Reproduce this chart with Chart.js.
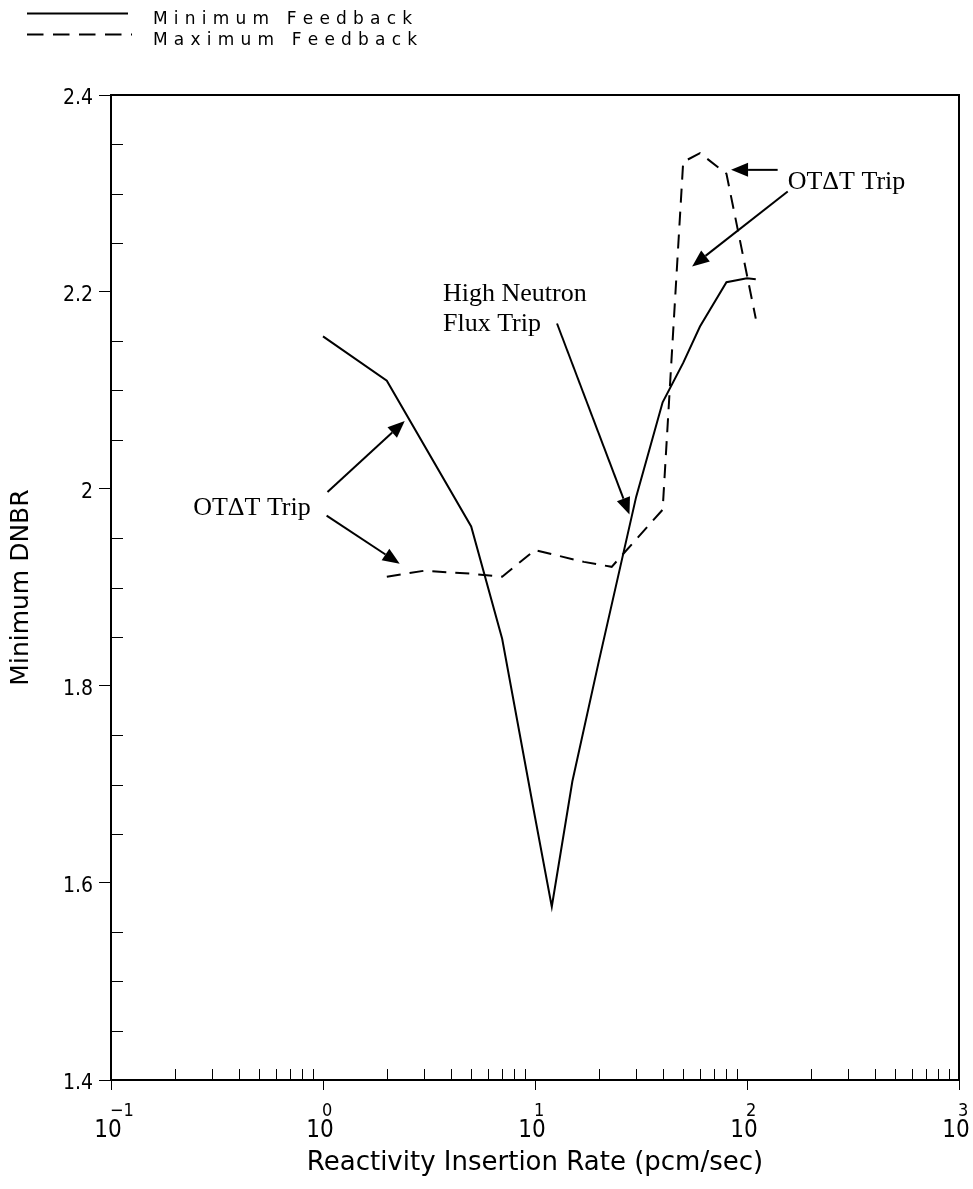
<!DOCTYPE html>
<html lang="en">
<head>
	<meta charset="UTF-8">
	<title>Minimum DNBR vs Reactivity Insertion Rate</title>
	<script src="https://cdn.jsdelivr.net/npm/chart.js@4.4.0/dist/chart.umd.min.js"></script>
	<style>
		html, body { margin: 0; padding: 0; background: #fff; }
		#wrap { width: 973px; height: 1189px; }
	</style>
</head>
<body>
	<div id="wrap"><canvas id="chart" width="973" height="1189"></canvas></div>

	<script>
		// data (x in pcm/sec, y = minimum DNBR)
		const minFeedbackRate = [1, 2, 5, 7, 10, 12, 15, 20, 30, 40, 50, 60, 80, 100, 110];
		const minFeedbackDnbr = [2.155, 2.110, 1.962, 1.848, 1.667, 1.576, 1.703, 1.825, 1.992, 2.088, 2.128, 2.165, 2.210, 2.214, 2.213];

		const maxFeedbackRate = [2, 3, 5, 7, 10, 17, 23, 40, 50, 60, 80, 110];
		const maxFeedbackDnbr = [1.911, 1.917, 1.914, 1.911, 1.938, 1.926, 1.921, 1.979, 2.332, 2.341, 2.320, 2.173];

		const seriesNames = ["Minimum Feedback", "Maximum Feedback"];

		const xMajorTicks = [0.1, 1, 10, 100, 1000];
		const xExponents = ["\u22121", "0", "1", "2", "3"];

		// callouts, in data coordinates
		const noteTexts = [["OT\u0394T Trip"], ["High Neutron", "Flux Trip"], ["OT\u0394T Trip"]];
		const noteAt = [[0.244, 1.974], [3.68, 2.191], [155.6, 2.305]];
		const arrowFrom = [[1.05, 1.997], [1.04, 1.973], [12.7, 2.168], [139.5, 2.324], [155.6, 2.302]];
		const arrowTo = [[2.43, 2.069], [2.30, 1.924], [27.9, 1.974], [84.1, 2.324], [55.1, 2.226]];

		const narrow = "'Liberation Sans Narrow', 'DejaVu Sans Condensed', sans-serif";
		const dash = [14, 9];

		function toPoints(xs, ys) {
			return xs.map((x, i) => ({ x: x, y: ys[i] }));
		}

		function drawArrow(ctx, x1, y1, x2, y2) {
			const a = Math.atan2(y2 - y1, x2 - x1);
			const len = 17, half = 7;
			const bx = x2 - len * Math.cos(a), by = y2 - len * Math.sin(a);
			ctx.beginPath();
			ctx.moveTo(x1, y1);
			ctx.lineTo(bx, by);
			ctx.stroke();
			ctx.beginPath();
			ctx.moveTo(x2, y2);
			ctx.lineTo(bx + half * Math.sin(a), by - half * Math.cos(a));
			ctx.lineTo(bx - half * Math.sin(a), by + half * Math.cos(a));
			ctx.closePath();
			ctx.fill();
		}

		function spacedText(ctx, str, x, y, gap) {
			for (const ch of str) {
				ctx.fillText(ch, x, y);
				x += ctx.measureText(ch).width + gap;
			}
		}

		const decorations = {
			id: 'decorations',
			afterDraw(chart) {
				const ctx = chart.ctx;
				const area = chart.chartArea;
				const xs = chart.scales.x, ys = chart.scales.y;
				ctx.save();
				ctx.strokeStyle = '#000';
				ctx.fillStyle = '#000';

				// frame
				ctx.lineWidth = 2;
				ctx.strokeRect(area.left, area.top, area.right - area.left, area.bottom - area.top);

				// minor ticks, pointing inward
				ctx.lineWidth = 1;
				ctx.beginPath();
				for (let k = 1; k < 20; k++) {
					if (k % 4 === 0) continue;
					const py = Math.round(ys.getPixelForValue(1.4 + k * 0.05)) + 0.5;
					ctx.moveTo(area.left, py);
					ctx.lineTo(area.left + 12, py);
				}
				for (let d = 0; d < 4; d++) {
					for (let m = 2; m <= 9; m++) {
						const px = Math.round(xs.getPixelForValue(m * xMajorTicks[d])) + 0.5;
						ctx.moveTo(px, area.bottom);
						ctx.lineTo(px, area.bottom - 11);
					}
				}
				ctx.stroke();

				// x tick labels: 10 with exponent above
				xMajorTicks.forEach((v, i) => {
					const px = xs.getPixelForValue(v);
					ctx.textBaseline = 'alphabetic';
					ctx.font = '24px ' + narrow;
					ctx.textAlign = 'center';
					ctx.fillText('10', px - 3, 1137);
					ctx.font = '18px ' + narrow;
					ctx.textAlign = 'left';
					ctx.fillText(xExponents[i], px - 1, 1116);
				});

				// callout text and arrows
				ctx.font = '26px "Liberation Serif", serif';
				ctx.textAlign = 'left';
				noteTexts.forEach((lines, i) => {
					const px = xs.getPixelForValue(noteAt[i][0]);
					const py = ys.getPixelForValue(noteAt[i][1]);
					lines.forEach((t, j) => ctx.fillText(t, px, py + j * 30.5));
				});
				ctx.lineWidth = 2;
				arrowFrom.forEach((f, i) => {
					drawArrow(ctx,
						xs.getPixelForValue(f[0]), ys.getPixelForValue(f[1]),
						xs.getPixelForValue(arrowTo[i][0]), ys.getPixelForValue(arrowTo[i][1]));
				});

				// legend in the top-left corner
				ctx.lineWidth = 2;
				ctx.beginPath();
				ctx.moveTo(27, 13.5);
				ctx.lineTo(128, 13.5);
				ctx.stroke();
				ctx.setLineDash([16.5, 9.5]);
				ctx.beginPath();
				ctx.moveTo(27, 34.5);
				ctx.lineTo(132, 34.5);
				ctx.stroke();
				ctx.setLineDash([]);
				ctx.font = '17px "DejaVu Sans", sans-serif';
				spacedText(ctx, seriesNames[0], 153, 24, 6.2);
				spacedText(ctx, seriesNames[1], 153, 45, 6.2);

				ctx.restore();
			}
		};

		const config = {
			type: 'line',
			data: {
				datasets: [
					{
						label: seriesNames[0],
						data: toPoints(minFeedbackRate, minFeedbackDnbr),
						borderColor: '#000',
						borderWidth: 2,
						pointRadius: 0,
						tension: 0,
						fill: false
					},
					{
						label: seriesNames[1],
						data: toPoints(maxFeedbackRate, maxFeedbackDnbr),
						borderColor: '#000',
						borderWidth: 2,
						borderDash: dash,
						pointRadius: 0,
						tension: 0,
						fill: false
					}
				]
			},
			plugins: [decorations],
			options: {
				responsive: false,
				animation: false,
				devicePixelRatio: 1,
				layout: {
					padding: { top: 95, right: 14, bottom: 0, left: 0 }
				},
				plugins: {
					legend: { display: false },
					tooltip: { enabled: false }
				},
				scales: {
					x: {
						type: 'logarithmic',
						min: 0.1,
						max: 1000,
						afterBuildTicks: s => { s.ticks = xMajorTicks.map(v => ({ value: v, major: true })); },
						afterFit: s => { s.height = 109; },
						ticks: { display: false },
						grid: { drawOnChartArea: false, tickLength: 10, color: '#000', lineWidth: 1 },
						border: { display: true, color: '#000', width: 2 },
						title: {
							display: true,
							text: 'Reactivity Insertion Rate (pcm/sec)',
							color: '#000',
							font: { family: '"DejaVu Sans", sans-serif', size: 26 },
							padding: { top: 0, bottom: 10 }
						}
					},
					y: {
						min: 1.4,
						max: 2.4,
						afterFit: s => { s.width = 111; },
						ticks: {
							stepSize: 0.2,
							color: '#000',
							padding: 6,
							labelOffset: 4,
							font: { family: narrow, size: 21 },
							callback: v => String(+v.toFixed(1))
						},
						grid: { drawOnChartArea: false, tickLength: 12, color: '#000', lineWidth: 1 },
						border: { display: true, color: '#000', width: 2 },
						title: {
							display: true,
							text: 'Minimum DNBR',
							color: '#000',
							font: { family: '"DejaVu Sans", sans-serif', size: 25 },
							padding: { top: 6, bottom: 0 }
						}
					}
				}
			}
		};

		const chart = new Chart(document.getElementById('chart').getContext('2d'), config);
	</script>
</body>
</html>
